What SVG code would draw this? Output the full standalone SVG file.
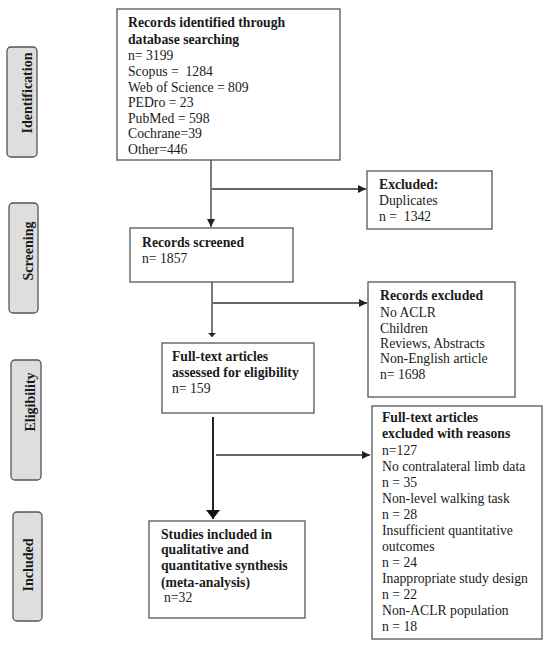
<svg xmlns="http://www.w3.org/2000/svg" width="550" height="662" viewBox="0 0 550 662">
<defs>
<style>
.box{fill:#fff;stroke:#555;stroke-width:1.3}
.lab{fill:#dedede;stroke:#555;stroke-width:1.3}
text{font-family:"Liberation Serif","Times New Roman",serif;font-size:13.7px;fill:#1a1a1a}
.b{font-weight:bold}
.side{font-weight:bold;font-size:14px;text-anchor:middle}
.ln{stroke:#333;stroke-width:1.3;fill:none}
.thick{stroke:#222;stroke-width:2;fill:none}
</style>
<marker id="ah" viewBox="0 0 10 10" refX="10" refY="5" markerWidth="8" markerHeight="8" markerUnits="userSpaceOnUse" orient="auto"><path d="M0,0 L10,5 L0,10 z" fill="#222"/></marker>
<marker id="ahs" viewBox="0 0 10 10" refX="10" refY="5" markerWidth="4" markerHeight="8" markerUnits="userSpaceOnUse" orient="auto" preserveAspectRatio="none"><path d="M0,0 L10,5 L0,10 z" fill="#222"/></marker>
<marker id="ahb" viewBox="0 0 10 10" refX="10" refY="5" markerWidth="9" markerHeight="14" markerUnits="userSpaceOnUse" orient="auto" preserveAspectRatio="none"><path d="M0,0 L10,5 L0,10 z" fill="#111"/></marker>
</defs>
<rect width="550" height="662" fill="#fff"/>

<g id="stage-identification">
<rect class="lab" x="7" y="47" width="30" height="110" rx="4"/>
<text class="side" transform="translate(32,93) rotate(-90)">Identification</text>
</g>
<g id="stage-screening">
<rect class="lab" x="9" y="203" width="29" height="110" rx="4"/>
<text class="side" transform="translate(33,251) rotate(-90)">Screening</text>
</g>
<g id="stage-eligibility">
<rect class="lab" x="11" y="360" width="30" height="120" rx="4"/>
<text class="side" transform="translate(35,402) rotate(-90)">Eligibility</text>
</g>
<g id="stage-included">
<rect class="lab" x="13" y="512" width="29" height="109" rx="4"/>
<text class="side" transform="translate(33,565) rotate(-90)">Included</text>
</g>

<g id="connectors">
<line class="ln" x1="211" y1="160" x2="211" y2="227" marker-end="url(#ah)"/>
<line class="ln" x1="212" y1="189" x2="366" y2="189" marker-end="url(#ah)"/>
<line class="ln" x1="212" y1="282" x2="212" y2="337" marker-end="url(#ahs)"/>
<line class="ln" x1="213" y1="303" x2="367" y2="303" marker-end="url(#ah)"/>
<line class="thick" x1="213" y1="417" x2="213" y2="519" marker-end="url(#ahb)"/>
<line class="ln" x1="216" y1="455" x2="370" y2="455" marker-end="url(#ah)"/>
</g>

<g id="records-identified">
<rect class="box" x="117" y="9" width="223" height="151"/>
<text x="128" y="27" class="b">Records identified through</text>
<text x="128" y="44" class="b">database searching</text>
<text x="128" y="60">n= 3199</text>
<text x="128" y="76" xml:space="preserve">Scopus =  1284</text>
<text x="128" y="92">Web of Science = 809</text>
<text x="128" y="107">PEDro = 23</text>
<text x="128" y="123">PubMed = 598</text>
<text x="128" y="138">Cochrane=39</text>
<text x="128" y="154">Other=446</text>
</g>

<g id="excluded-duplicates">
<rect class="box" x="367" y="171" width="125" height="58"/>
<text x="379" y="189" class="b">Excluded:</text>
<text x="379" y="205">Duplicates</text>
<text x="379" y="221" xml:space="preserve">n =  1342</text>
</g>

<g id="records-screened">
<rect class="box" x="130" y="228" width="163" height="54"/>
<text x="142" y="247" class="b">Records screened</text>
<text x="142" y="263">n= 1857</text>
</g>

<g id="records-excluded">
<rect class="box" x="368" y="282" width="147" height="115"/>
<text x="380" y="300" class="b">Records excluded</text>
<text x="380" y="317">No ACLR</text>
<text x="380" y="333">Children</text>
<text x="380" y="348">Reviews, Abstracts</text>
<text x="380" y="363">Non-English article</text>
<text x="380" y="379">n= 1698</text>
</g>

<g id="full-text-assessed">
<rect class="box" x="162" y="343" width="152" height="70"/>
<text x="172" y="361" class="b">Full-text articles</text>
<text x="172" y="377" class="b">assessed for eligibility</text>
<text x="172" y="393">n= 159</text>
</g>

<g id="full-text-excluded">
<rect class="box" x="372" y="406" width="170" height="233"/>
<text x="382" y="422" class="b">Full-text articles</text>
<text x="382" y="438" class="b">excluded with reasons</text>
<text x="382" y="455">n=127</text>
<text x="382" y="471">No contralateral limb data</text>
<text x="382" y="487">n = 35</text>
<text x="382" y="503">Non-level walking task</text>
<text x="382" y="519">n = 28</text>
<text x="382" y="535">Insufficient quantitative</text>
<text x="382" y="551">outcomes</text>
<text x="382" y="567">n = 24</text>
<text x="382" y="583">Inappropriate study design</text>
<text x="382" y="599">n = 22</text>
<text x="382" y="615">Non-ACLR population</text>
<text x="382" y="631">n = 18</text>
</g>

<g id="studies-included">
<rect class="box" x="149" y="521" width="156" height="97"/>
<text x="161" y="539" class="b">Studies included in</text>
<text x="161" y="554" class="b">qualitative and</text>
<text x="161" y="570" class="b">quantitative synthesis</text>
<text x="161" y="587" class="b">(meta-analysis)</text>
<text x="164" y="602">n=32</text>
</g>
</svg>
